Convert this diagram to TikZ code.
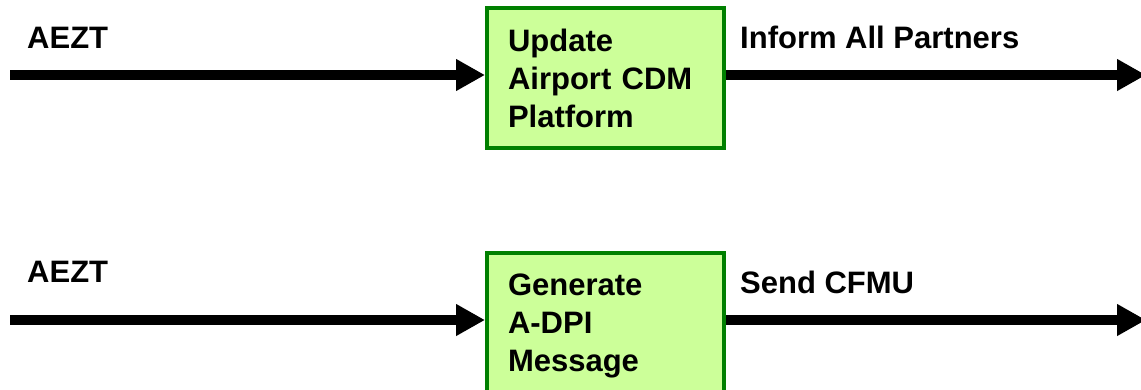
\documentclass[tikz,border=0pt]{standalone}
\usepackage{fontspec}
\setmainfont{Liberation Sans}
\usetikzlibrary{arrows.meta}
\definecolor{boxgreen}{HTML}{008000}
\definecolor{boxfill}{HTML}{CCFF99}
\begin{document}
\begin{tikzpicture}[x=1pt,y=-1pt,
  flowbox/.style={draw=boxgreen, fill=boxfill, line width=4pt, minimum width=237pt, minimum height=140pt,
    text width=195pt, align=left, inner xsep=19pt, inner ysep=0pt, text depth=76pt,
    font=\fontsize{31}{38}\selectfont\bfseries},
  lbl/.style={anchor=base west, inner sep=0pt, font=\fontsize{31}{36}\selectfont\bfseries},
  arr/.style={line width=10pt, -{Triangle[length=29pt,width=30pt]}}]
\useasboundingbox (0,0) rectangle (1141,389);
\node[flowbox] (b1) at (605.5,78) {Update\\Airport CDM\\Platform};
\node[flowbox] (b2) at (605.5,323) {Generate\\A-DPI\\Message};
\coordinate (in1) at (10,75);
\coordinate (out1) at (1146,75);
\coordinate (in2) at (10,320);
\coordinate (out2) at (1146,320);
\draw[arr] (in1) -- (in1 -| b1.west);
\draw[arr] (b1.east |- out1) -- (out1);
\draw[arr] (in2) -- (in2 -| b2.west);
\draw[arr] (b2.east |- out2) -- (out2);
\node[lbl] (l1) at (27,48) {AEZT};
\node[lbl] (l2) at (740,48) {Inform All Partners};
\node[lbl] (l3) at (27,282) {AEZT};
\node[lbl] (l4) at (740,293) {Send CFMU};
\end{tikzpicture}
\end{document}
